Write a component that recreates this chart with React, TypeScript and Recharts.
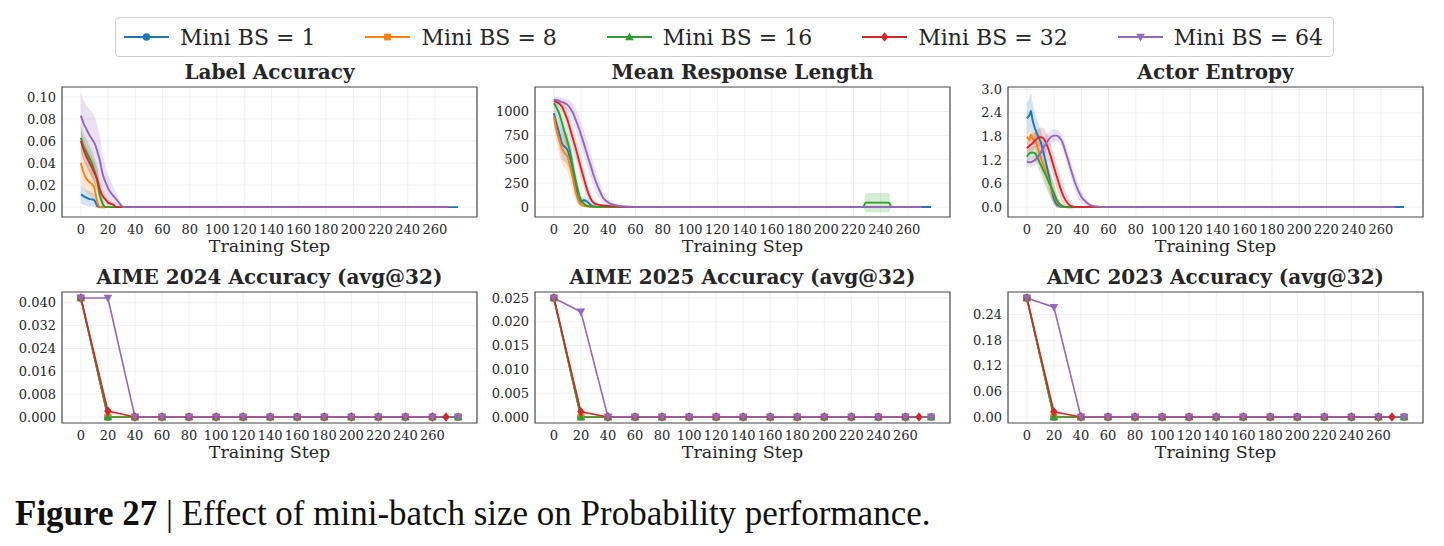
import React from 'react';
import { ComposedChart, Line, Area, XAxis, YAxis, CartesianGrid, ReferenceArea } from 'recharts';

// series
const SERIES = ['Mini BS = 1', 'Mini BS = 8', 'Mini BS = 16', 'Mini BS = 32', 'Mini BS = 64'];
const KEYS = ['bs1', 'bs8', 'bs16', 'bs32', 'bs64'];
const COLORS = ['#1f77b4', '#ff7f0e', '#2ca02c', '#d62728', '#9467bd'];
const MARKERS = ['circle', 'square', 'triangle', 'diamond', 'triangleDown'];

const STEP_TICKS = [0, 20, 40, 60, 80, 100, 120, 140, 160, 180, 200, 220, 240, 260];

// ---- Label Accuracy ----
const ACC_STEPS = [0, 2, 4, 6, 8, 10, 12, 14, 16, 18, 20, 22, 24, 26, 28, 30, 32, 40, 270, 277];
const ACC_BS1 = [0.0115, 0.010, 0.0085, 0.0075, 0.007, 0.006, 0.001, 0, 0, 0, 0, 0, 0, 0, 0, 0, 0, 0, 0, 0];
const ACC_BS8 = [0.040, 0.031, 0.026, 0.023, 0.021, 0.017, 0.005, 0, 0, 0, 0, 0, 0, 0, 0, 0, 0, 0, 0, null];
const ACC_BS16 = [0.063, 0.055, 0.050, 0.045, 0.040, 0.033, 0.024, 0.010, 0.003, 0, 0, 0, 0, 0, 0, 0, 0, 0, 0, null];
const ACC_BS32 = [0.060, 0.052, 0.046, 0.041, 0.036, 0.031, 0.025, 0.016, 0.010, 0.007, 0.004, 0.003, 0.002, 0, 0, 0, 0, 0, 0, null];
const ACC_BS64 = [0.083, 0.076, 0.071, 0.066, 0.062, 0.058, 0.051, 0.042, 0.030, 0.023, 0.017, 0.013, 0.010, 0.007, 0.004, 0.001, 0, 0, 0, null];
// half width of shaded band
const ACC_SD1 = [0.008, 0.008, 0.007, 0.007, 0.006, 0.006, 0.002, 0, 0, 0, 0, 0, 0, 0, 0, 0, 0, 0, 0, 0];
const ACC_SD8 = [0.016, 0.014, 0.013, 0.012, 0.012, 0.010, 0.006, 0.002, 0, 0, 0, 0, 0, 0, 0, 0, 0, 0, 0, 0];
const ACC_SD16 = [0.012, 0.012, 0.012, 0.012, 0.012, 0.012, 0.012, 0.010, 0.005, 0.001, 0, 0, 0, 0, 0, 0, 0, 0, 0, 0];
const ACC_SD32 = [0.010, 0.010, 0.010, 0.010, 0.010, 0.010, 0.010, 0.008, 0.006, 0.004, 0.003, 0.002, 0.002, 0, 0, 0, 0, 0, 0, 0];
const ACC_SD64 = [0.020, 0.021, 0.022, 0.023, 0.024, 0.025, 0.024, 0.022, 0.018, 0.015, 0.012, 0.010, 0.008, 0.006, 0.004, 0.002, 0, 0, 0, 0];

// ---- Mean Response Length ----
const LEN_STEPS = [0, 2, 4, 6, 8, 10, 12, 14, 16, 18, 20, 22, 24, 26, 28, 30, 33, 36, 40, 45, 50, 55, 60, 227, 229, 246, 248, 270, 277];
const LEN_BS1 = [982, 870, 770, 667, 630, 596, 505, 380, 228, 88, 55, 70, 60, 35, 12, 3, 0, 0, 0, 0, 0, 0, 0, 0, 0, 0, 0, 0, 0];
const LEN_BS8 = [947, 800, 700, 614, 565, 526, 420, 300, 158, 70, 25, 12, 6, 3, 1, 0, 0, 0, 0, 0, 0, 0, 0, 0, 0, 0, 0, 0, null];
const LEN_BS16 = [1088, 1040, 975, 880, 780, 684, 575, 420, 280, 158, 70, 35, 15, 8, 4, 2, 1, 0, 0, 0, 0, 0, 0, 0, 46, 46, 0, 0, null];
const LEN_BS32 = [1112, 1100, 1085, 1050, 985, 912, 815, 715, 618, 510, 404, 300, 200, 120, 62, 35, 22, 15, 10, 6, 3, 1, 0, 0, 0, 0, 0, 0, null];
const LEN_BS64 = [1123, 1118, 1110, 1100, 1088, 1070, 1035, 985, 915, 840, 754, 665, 572, 480, 388, 298, 190, 100, 46, 18, 7, 3, 0, 0, 0, 0, 0, 0, null];
const LEN_SD1 = [80, 120, 150, 160, 160, 160, 150, 130, 100, 60, 40, 40, 35, 25, 10, 3, 0, 0, 0, 0, 0, 0, 0, 0, 0, 0, 0, 0, 0];
const LEN_SD8 = [80, 130, 150, 160, 160, 160, 150, 130, 90, 50, 25, 12, 6, 3, 1, 0, 0, 0, 0, 0, 0, 0, 0, 0, 0, 0, 0, 0, 0];
const LEN_SD16 = [40, 60, 80, 100, 110, 110, 110, 110, 100, 80, 50, 30, 15, 8, 4, 2, 0, 0, 0, 0, 0, 0, 0, 0, 100, 100, 0, 0, 0];
const LEN_SD32 = [30, 35, 45, 60, 80, 100, 110, 115, 115, 115, 110, 100, 85, 65, 45, 30, 18, 10, 6, 3, 0, 0, 0, 0, 0, 0, 0, 0, 0];
const LEN_SD64 = [40, 40, 40, 45, 50, 60, 75, 95, 110, 120, 125, 130, 130, 130, 125, 115, 95, 60, 35, 15, 8, 4, 0, 0, 0, 0, 0, 0, 0];

// ---- Actor Entropy ----
const ENT_STEPS = [0, 2, 3, 4, 6, 8, 10, 12, 14, 16, 18, 20, 22, 24, 26, 28, 30, 32, 34, 36, 38, 40, 44, 48, 52, 56, 60, 270, 277];
const ENT_BS1 = [2.26, 2.35, 2.45, 2.25, 2.0, 1.82, 1.67, 1.42, 1.13, 0.82, 0.48, 0.2, 0.06, 0.02, 0, 0, 0, 0, 0, 0, 0, 0, 0, 0, 0, 0, 0, 0, 0];
const ENT_BS8 = [1.79, 1.71, 1.85, 1.75, 1.70, 1.50, 1.28, 1.08, 0.88, 0.67, 0.49, 0.31, 0.14, 0.05, 0.01, 0, 0, 0, 0, 0, 0, 0, 0, 0, 0, 0, 0, 0, null];
const ENT_BS16 = [1.28, 1.37, 1.38, 1.39, 1.37, 1.24, 1.09, 0.94, 0.80, 0.65, 0.50, 0.35, 0.18, 0.08, 0.03, 0, 0, 0, 0, 0, 0, 0, 0, 0, 0, 0, 0, 0, null];
const ENT_BS32 = [1.50, 1.56, 1.59, 1.62, 1.70, 1.76, 1.78, 1.76, 1.64, 1.46, 1.24, 1.0, 0.77, 0.55, 0.35, 0.2, 0.1, 0.03, 0.01, 0, 0, 0, 0, 0, 0, 0, 0, 0, null];
const ENT_BS64 = [1.16, 1.14, 1.14, 1.16, 1.20, 1.28, 1.37, 1.50, 1.62, 1.72, 1.79, 1.82, 1.82, 1.77, 1.66, 1.45, 1.23, 0.99, 0.77, 0.56, 0.40, 0.26, 0.11, 0.03, 0.01, 0, 0, 0, null];
const ENT_SD1 = [0.40, 0.45, 0.45, 0.45, 0.40, 0.35, 0.30, 0.30, 0.30, 0.30, 0.25, 0.15, 0.08, 0.04, 0, 0, 0, 0, 0, 0, 0, 0, 0, 0, 0, 0, 0, 0, 0];
const ENT_SD8 = [0.15, 0.15, 0.15, 0.15, 0.20, 0.25, 0.30, 0.30, 0.30, 0.30, 0.30, 0.25, 0.15, 0.08, 0.03, 0, 0, 0, 0, 0, 0, 0, 0, 0, 0, 0, 0, 0, 0];
const ENT_SD16 = [0.15, 0.15, 0.15, 0.15, 0.18, 0.22, 0.25, 0.28, 0.30, 0.30, 0.30, 0.25, 0.18, 0.10, 0.05, 0.02, 0, 0, 0, 0, 0, 0, 0, 0, 0, 0, 0, 0, 0];
const ENT_SD32 = [0.15, 0.18, 0.19, 0.20, 0.20, 0.22, 0.25, 0.25, 0.28, 0.30, 0.30, 0.30, 0.30, 0.28, 0.25, 0.20, 0.15, 0.10, 0.05, 0.02, 0, 0, 0, 0, 0, 0, 0, 0, 0];
const ENT_SD64 = [0.12, 0.12, 0.12, 0.12, 0.14, 0.16, 0.18, 0.20, 0.20, 0.20, 0.18, 0.16, 0.15, 0.15, 0.16, 0.18, 0.20, 0.20, 0.20, 0.20, 0.18, 0.15, 0.08, 0.03, 0.01, 0, 0, 0, 0];

// ---- evaluation (avg@32) ----
const EVAL_STEPS = [0, 20, 40, 60, 80, 100, 120, 140, 160, 180, 200, 220, 240, 260, 270, 279];
const A24_BS1 = [0.0417, 0, 0, 0, 0, 0, 0, 0, 0, 0, 0, 0, 0, 0, null, 0];
const A24_BS8 = [0.0417, 0, 0, 0, 0, 0, 0, 0, 0, 0, 0, 0, 0, 0, null, 0];
const A24_BS16 = [0.0417, 0, 0, 0, 0, 0, 0, 0, 0, 0, 0, 0, 0, 0, null, 0];
const A24_BS32 = [0.0417, 0.0021, 0, 0, 0, 0, 0, 0, 0, 0, 0, 0, 0, 0, 0, null];
const A24_BS64 = [0.0417, 0.0417, 0, 0, 0, 0, 0, 0, 0, 0, 0, 0, 0, 0, null, 0];

const A25_BS1 = [0.025, 0, 0, 0, 0, 0, 0, 0, 0, 0, 0, 0, 0, 0, null, 0];
const A25_BS8 = [0.025, 0, 0, 0, 0, 0, 0, 0, 0, 0, 0, 0, 0, 0, null, 0];
const A25_BS16 = [0.025, 0, 0, 0, 0, 0, 0, 0, 0, 0, 0, 0, 0, 0, null, 0];
const A25_BS32 = [0.025, 0.0011, 0, 0, 0, 0, 0, 0, 0, 0, 0, 0, 0, 0, 0, null];
const A25_BS64 = [0.025, 0.0221, 0, 0, 0, 0, 0, 0, 0, 0, 0, 0, 0, 0, null, 0];

const AMC_BS1 = [0.279, 0, 0, 0, 0, 0, 0, 0, 0, 0, 0, 0, 0, 0, null, 0];
const AMC_BS8 = [0.279, 0, 0, 0, 0, 0, 0, 0, 0, 0, 0, 0, 0, 0, null, 0];
const AMC_BS16 = [0.279, 0, 0, 0, 0, 0, 0, 0, 0, 0, 0, 0, 0, 0, null, 0];
const AMC_BS32 = [0.279, 0.0125, 0, 0, 0, 0, 0, 0, 0, 0, 0, 0, 0, 0, 0, null];
const AMC_BS64 = [0.279, 0.2575, 0, 0, 0, 0, 0, 0, 0, 0, 0, 0, 0, 0, null, 0];

const FONT = '"DejaVu Serif", serif';
const TEXT = '#262626';
const PLOT_W = 415;
const Y_W = 60;
const X_H = 40;
const RIGHT = 10;
const TOP_M = 10;

function buildRows(steps, vals, spreads?) {
  return steps.map((step, i) => {
    const row: any = { step };
    KEYS.forEach((k, s) => {
      const v = vals[s][i];
      row[k] = v;
      if (spreads) row[k + '_band'] = v == null ? null : [v - spreads[s][i], v + spreads[s][i]];
    });
    return row;
  });
}

function MarkerShape({ cx, cy, shape, color }) {
  if (shape === 'circle') return <circle cx={cx} cy={cy} r={3.8} fill={color} />;
  if (shape === 'square') return <rect x={cx - 3.4} y={cy - 3.4} width={6.8} height={6.8} fill={color} />;
  if (shape === 'triangle')
    return <polygon points={`${cx},${cy - 4.5} ${cx - 4.3},${cy + 3.2} ${cx + 4.3},${cy + 3.2}`} fill={color} />;
  if (shape === 'diamond')
    return <polygon points={`${cx},${cy - 4.8} ${cx + 3.8},${cy} ${cx},${cy + 4.8} ${cx - 3.8},${cy}`} fill={color} />;
  return <polygon points={`${cx},${cy + 4.5} ${cx - 4.3},${cy - 3.2} ${cx + 4.3},${cy - 3.2}`} fill={color} />;
}

function makeDot(s) {
  return (p) => {
    const k = `dot-${s}-${p.index}`;
    if (p.cx == null || p.cy == null || p.value == null) return <g key={k} />;
    return (
      <g key={k}>
        <MarkerShape cx={p.cx} cy={p.cy} shape={MARKERS[s]} color={COLORS[s]} />
      </g>
    );
  };
}

function Panel({ left, top, plotH, title, rows, yDomain, yTicks, fmt, xDomain, bands }) {
  return (
    <>
      <div
        style={{
          position: 'absolute',
          left: left - 20,
          top: top - 25,
          width: PLOT_W + 40,
          textAlign: 'center',
          fontFamily: FONT,
          fontWeight: 'bold',
          fontSize: 20,
          lineHeight: '20px',
          color: TEXT,
          whiteSpace: 'nowrap',
        }}
      >
        {title}
      </div>
      <div style={{ position: 'absolute', left: left - Y_W, top: top - TOP_M }}>
        <ComposedChart
          width={Y_W + PLOT_W + RIGHT}
          height={plotH + X_H + TOP_M}
          data={rows}
          margin={{ top: TOP_M, right: RIGHT, bottom: 0, left: 0 }}
        >
          <CartesianGrid stroke="#ececec" strokeWidth={0.8} />
          <XAxis
            type="number"
            dataKey="step"
            domain={xDomain}
            allowDataOverflow
            ticks={STEP_TICKS}
            interval={0}
            tickLine={false}
            axisLine={false}
            height={X_H}
            tick={{ fontSize: 13, fill: TEXT, fontFamily: FONT }}
            label={{
              value: 'Training Step',
              position: 'insideBottom',
              offset: 5,
              style: { fontSize: 17.5, fill: TEXT, fontFamily: FONT },
            }}
          />
          <YAxis
            type="number"
            domain={yDomain}
            allowDataOverflow
            ticks={yTicks}
            interval={0}
            tickFormatter={fmt}
            tickLine={false}
            axisLine={false}
            width={Y_W}
            tickSize={4}
            tickMargin={2}
            tick={{ fontSize: 13, fill: TEXT, fontFamily: FONT }}
          />
          {bands &&
            KEYS.map((k, s) => (
              <Area
                key={k + '_band'}
                type="monotone"
                dataKey={k + '_band'}
                stroke="none"
                fill={COLORS[s]}
                fillOpacity={0.2}
                connectNulls
                isAnimationActive={false}
              />
            ))}
          {KEYS.map((k, s) => (
            <Line
              key={k}
              type={bands ? 'monotone' : 'linear'}
              dataKey={k}
              stroke={COLORS[s]}
              strokeWidth={bands ? 1.9 : 1.6}
              dot={bands ? false : makeDot(s)}
              activeDot={false}
              connectNulls
              isAnimationActive={false}
            />
          ))}
          <ReferenceArea
            x1={xDomain[0]}
            x2={xDomain[1]}
            y1={yDomain[0]}
            y2={yDomain[1]}
            fill="none"
            stroke="#4d4d4d"
            strokeWidth={1.2}
            ifOverflow="visible"
          />
        </ComposedChart>
      </div>
    </>
  );
}

function LegendIcon({ s }) {
  return (
    <svg width={45} height={20} style={{ marginRight: 11, flex: 'none' }}>
      <line x1={0} y1={10} x2={45} y2={10} stroke={COLORS[s]} strokeWidth={2} />
      <MarkerShape cx={22.5} cy={10} shape={MARKERS[s]} color={COLORS[s]} />
    </svg>
  );
}

const TRAIN_X = [-13.85, 290.85];
const EVAL_X = [-13.95, 292.95];
const LEFTS = [62, 535, 1008];

export default function App() {
  const accRows = buildRows(ACC_STEPS, [ACC_BS1, ACC_BS8, ACC_BS16, ACC_BS32, ACC_BS64], [ACC_SD1, ACC_SD8, ACC_SD16, ACC_SD32, ACC_SD64]);
  const lenRows = buildRows(LEN_STEPS, [LEN_BS1, LEN_BS8, LEN_BS16, LEN_BS32, LEN_BS64], [LEN_SD1, LEN_SD8, LEN_SD16, LEN_SD32, LEN_SD64]);
  const entRows = buildRows(ENT_STEPS, [ENT_BS1, ENT_BS8, ENT_BS16, ENT_BS32, ENT_BS64], [ENT_SD1, ENT_SD8, ENT_SD16, ENT_SD32, ENT_SD64]);
  const a24Rows = buildRows(EVAL_STEPS, [A24_BS1, A24_BS8, A24_BS16, A24_BS32, A24_BS64]);
  const a25Rows = buildRows(EVAL_STEPS, [A25_BS1, A25_BS8, A25_BS16, A25_BS32, A25_BS64]);
  const amcRows = buildRows(EVAL_STEPS, [AMC_BS1, AMC_BS8, AMC_BS16, AMC_BS32, AMC_BS64]);

  return (
    <div
      style={{
        position: 'absolute',
        left: 0,
        top: 0,
        width: 1444,
        height: 546,
        background: '#fff',
        overflow: 'hidden',
        fontFamily: FONT,
      }}
    >
      {/* legend */}
      <div
        style={{
          position: 'absolute',
          left: 115,
          top: 17,
          height: 40,
          boxSizing: 'border-box',
          border: '1px solid #d0d0d0',
          borderRadius: 4,
          padding: '0 10px 0 8px',
          display: 'flex',
          alignItems: 'center',
          gap: 50,
          fontSize: 22,
          color: TEXT,
          whiteSpace: 'nowrap',
        }}
      >
        {SERIES.map((name, s) => (
          <div key={name} style={{ display: 'flex', alignItems: 'center' }}>
            <LegendIcon s={s} />
            <span>{name}</span>
          </div>
        ))}
      </div>

      <Panel left={LEFTS[0]} top={87} plotH={130} title="Label Accuracy" rows={accRows}
        yDomain={[-0.009, 0.109]} yTicks={[0, 0.02, 0.04, 0.06, 0.08, 0.1]} fmt={(v) => v.toFixed(2)} xDomain={TRAIN_X} bands />
      <Panel left={LEFTS[1]} top={87} plotH={130} title="Mean Response Length" rows={lenRows}
        yDomain={[-105, 1257]} yTicks={[0, 250, 500, 750, 1000]} fmt={(v) => String(v)} xDomain={TRAIN_X} bands />
      <Panel left={LEFTS[2]} top={87} plotH={130} title="Actor Entropy" rows={entRows}
        yDomain={[-0.255, 3.06]} yTicks={[0, 0.6, 1.2, 1.8, 2.4, 3.0]} fmt={(v) => v.toFixed(1)} xDomain={TRAIN_X} bands />

      <Panel left={LEFTS[0]} top={292} plotH={131} title="AIME 2024 Accuracy (avg@32)" rows={a24Rows}
        yDomain={[-0.0021, 0.0438]} yTicks={[0, 0.008, 0.016, 0.024, 0.032, 0.04]} fmt={(v) => v.toFixed(3)} xDomain={EVAL_X} bands={false} />
      <Panel left={LEFTS[1]} top={292} plotH={131} title="AIME 2025 Accuracy (avg@32)" rows={a25Rows}
        yDomain={[-0.00125, 0.02625]} yTicks={[0, 0.005, 0.01, 0.015, 0.02, 0.025]} fmt={(v) => v.toFixed(3)} xDomain={EVAL_X} bands={false} />
      <Panel left={LEFTS[2]} top={292} plotH={131} title="AMC 2023 Accuracy (avg@32)" rows={amcRows}
        yDomain={[-0.014, 0.293]} yTicks={[0, 0.06, 0.12, 0.18, 0.24]} fmt={(v) => v.toFixed(2)} xDomain={EVAL_X} bands={false} />

      {/* caption */}
      <div
        style={{
          position: 'absolute',
          left: 15,
          top: 496,
          fontFamily: '"Liberation Serif", serif',
          fontSize: 35,
          lineHeight: '35px',
          color: '#111',
          whiteSpace: 'nowrap',
        }}
      >
        <b>Figure 27</b> | Effect of mini-batch size on Probability performance.
      </div>
    </div>
  );
}
